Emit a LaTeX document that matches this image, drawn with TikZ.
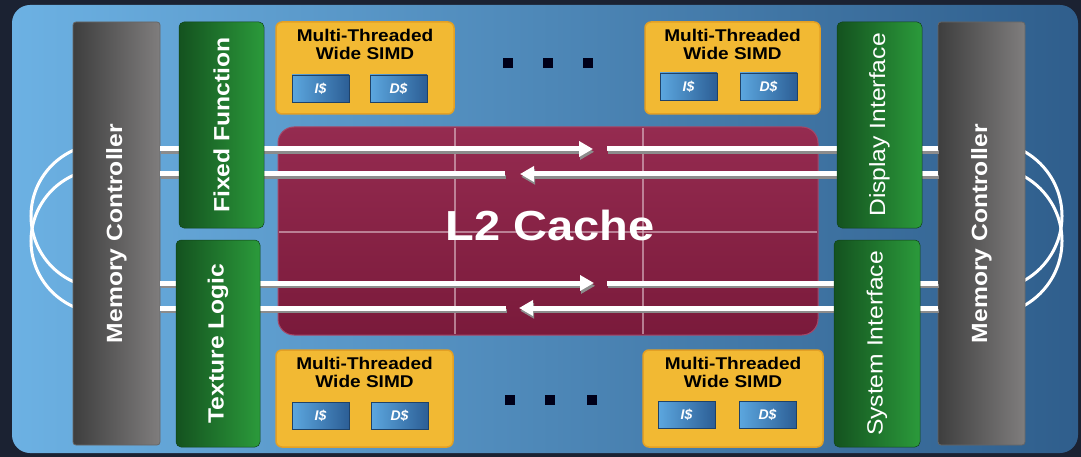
\documentclass[tikz,border=0pt]{standalone}
\usepackage{fontspec}
\setmainfont{Liberation Sans}
\newfontfamily\wide[FakeStretch=1.12]{Liberation Sans}
\usetikzlibrary{arrows.meta}
\definecolor{bg}{HTML}{1B2232}
\definecolor{panelL}{HTML}{6CB1E3}
\definecolor{panelR}{HTML}{2F5E8C}
\definecolor{memL}{HTML}{3E3E3E}
\definecolor{memR}{HTML}{7F7D7D}
\definecolor{grnL}{HTML}{14521F}
\definecolor{grnR}{HTML}{2B9A3B}
\definecolor{l2T}{HTML}{952B50}
\definecolor{l2B}{HTML}{7A1A3B}
\definecolor{l2E}{HTML}{A64767}
\definecolor{gold}{HTML}{F2B933}
\definecolor{goldE}{HTML}{E3A024}
\definecolor{cacheL}{HTML}{5CA7DF}
\definecolor{cacheR}{HTML}{2C5E95}
\tikzset{
  membox/.style={draw=black!60, line width=0.8pt, rounded corners=3pt, left color=memL, right color=memR, inner sep=0pt, outer sep=0pt, minimum width=87pt, minimum height=423pt, anchor=north west},
  grnbox/.style={draw=grnL!80!black, line width=0.5pt, rounded corners=5pt, left color=grnL, right color=grnR, inner sep=0pt, outer sep=0pt, minimum width=85pt, minimum height=206pt, anchor=north west},
  vlabel/.style={text=white, font=\wide\bfseries\fontsize{22}{24}\selectfont, rotate=90, inner sep=0pt},
  vlabelreg/.style={text=white, font=\wide\fontsize{22}{24}\selectfont, rotate=90, inner sep=0pt},
  simdbox/.style={draw=goldE, line width=1.5pt, fill=gold, rounded corners=6pt, inner sep=0pt, outer sep=0pt, minimum width=178pt, minimum height=92pt, anchor=north west},
  simdtext/.style={font=\wide\bfseries\fontsize{17}{18}\selectfont, text=black, align=center, inner sep=0pt, anchor=north},
  cachebox/.style={draw=cacheR!70!black, line width=0.5pt, left color=cacheL, right color=cacheR, minimum width=57pt, minimum height=27pt, inner sep=0pt, outer sep=0pt, anchor=north west, text=white, font=\bfseries\itshape\fontsize{14}{14}\selectfont},
  dotbox/.style={fill=black!90!blue, minimum size=10pt, inner sep=0pt},
  bus/.style={draw=white, line width=5pt},
  busshadow/.style={draw=black!45, line width=4.5pt, transform canvas={xshift=1.2pt, yshift=-2.8pt}},
  tip/.style={-{Triangle[length=14pt, width=15pt]}},
  ring/.style={draw=white, line width=3pt},
  grid/.style={draw=white!70!l2T, line width=2pt, opacity=0.6}
}
\begin{document}
\begin{tikzpicture}[x=1pt,y=-1pt]
\useasboundingbox (0,0) rectangle (1081,457);
\fill[bg] (0,0) rectangle (1081,457);
\shade[left color=panelL, right color=panelR, rounded corners=18pt] (12,5) rectangle (1078,453);

% L2 cache
\node[draw=l2E, line width=1pt, top color=l2T, bottom color=l2B, rounded corners=16pt, minimum width=540pt, minimum height=208pt, inner sep=0pt, outer sep=0pt, anchor=north west] (l2) at (278,127) {};
\draw[grid] (455,128) -- (455,334);
\draw[grid] (643,128) -- (643,334);
\draw[grid] (279,232) -- (817,232);
\node[text=white, font=\wide\bfseries\fontsize{42}{44}\selectfont, inner sep=0pt] (l2text) at (550,225) {L2 Cache};

% ring arcs
\coordinate (lc1) at (103,216);
\coordinate (lc2) at (103,241);
\coordinate (rc1) at (988,216);
\coordinate (rc2) at (988,241);
\draw[ring] (lc1) ++(0pt,72pt) arc[start angle=90, end angle=270, radius=72pt];
\draw[ring] (lc2) ++(0pt,72pt) arc[start angle=90, end angle=270, radius=72pt];
\draw[ring] (rc1) ++(0pt,74pt) arc[start angle=90, end angle=-90, radius=74pt];
\draw[ring] (rc2) ++(0pt,74pt) arc[start angle=90, end angle=-90, radius=74pt];

% memory controllers
\node[membox] (lmc) at (73,22) {};
\node[membox] (rmc) at (938,22) {};
\node[vlabel] (lmct) at (lmc.center) {Memory Controller};
\node[vlabel] (rmct) at (rmc.center) {Memory Controller};

% bus lines
\coordinate (a1) at (593,149);
\coordinate (a1b) at (607,149);
\coordinate (a2) at (520,174);
\coordinate (a2b) at (505,174);
\coordinate (a3) at (594,283);
\coordinate (a3b) at (607,283);
\coordinate (a4) at (519,308);
\coordinate (a4b) at (506,308);
\foreach \st in {busshadow,bus}{
  \draw[\st, tip] (lmc.east |- a1) -- (a1);
  \draw[\st] (a1b) -- (rmc.west |- a1b);
  \draw[\st, tip] (rmc.west |- a2) -- (a2);
  \draw[\st] (a2b) -- (lmc.east |- a2b);
  \draw[\st, tip] (lmc.east |- a3) -- (a3);
  \draw[\st] (a3b) -- (rmc.west |- a3b);
  \draw[\st, tip] (rmc.west |- a4) -- (a4);
  \draw[\st] (a4b) -- (lmc.east |- a4b);
}

% green blocks
\node[grnbox] (ff) at (179,22) {};
\node[grnbox, minimum width=84pt, minimum height=207pt] (tl) at (176,240) {};
\node[grnbox] (di) at (837,22) {};
\node[grnbox, minimum width=86pt, minimum height=207pt] (si) at (834,240) {};
\node[vlabel] (fft) at (ff.center) {Fixed Function};
\node[vlabel] (tlt) at (tl.center) {Texture Logic};
\node[vlabelreg] (dit) at (di.center) {Display Interface};
\node[vlabelreg] (sit) at (si.center) {System Interface};

% SIMD blocks
\node[simdbox] (s1) at (276,22) {};
\node[simdbox, minimum width=175pt] (s2) at (645,22) {};
\node[simdbox, minimum width=177pt, minimum height=97pt] (s3) at (276,350) {};
\node[simdbox, minimum width=180pt, minimum height=97pt] (s4) at (643,350) {};
\node[simdtext] (s1t) at ([yshift=-7pt]s1.north) {Multi-Threaded\\Wide SIMD};
\node[simdtext] (s2t) at ([yshift=-7pt]s2.north) {Multi-Threaded\\Wide SIMD};
\node[simdtext] (s3t) at ([yshift=-7pt]s3.north) {Multi-Threaded\\Wide SIMD};
\node[simdtext] (s4t) at ([yshift=-7pt]s4.north) {Multi-Threaded\\Wide SIMD};
\node[cachebox] (s1i) at (292,75) {I\$};
\node[cachebox] (s1d) at (370,75) {D\$};
\node[cachebox] (s2i) at (660,73) {I\$};
\node[cachebox] (s2d) at (740,73) {D\$};
\node[cachebox] (s3i) at (292,402) {I\$};
\node[cachebox] (s3d) at (371,402) {D\$};
\node[cachebox] (s4i) at (658,401) {I\$};
\node[cachebox] (s4d) at (739,401) {D\$};

% ellipsis dots
\node[dotbox] (d1) at (508,63) {};
\node[dotbox] (d2) at (548,63) {};
\node[dotbox] (d3) at (588,63) {};
\node[dotbox] (d4) at (510,400) {};
\node[dotbox] (d5) at (550,400) {};
\node[dotbox] (d6) at (592,400) {};
\end{tikzpicture}
\end{document}
